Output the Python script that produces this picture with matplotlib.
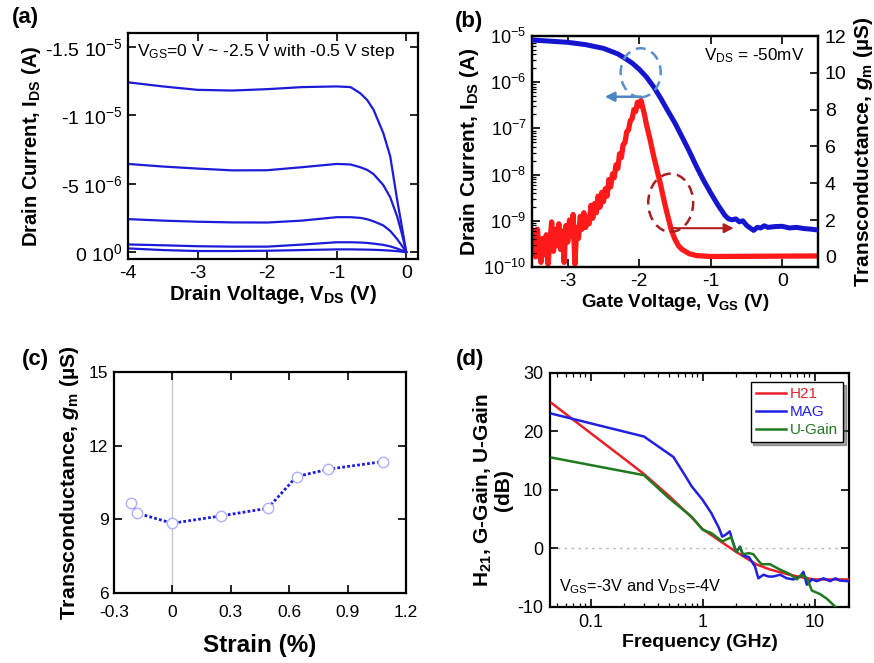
import matplotlib
matplotlib.use('Agg')
import matplotlib.pyplot as plt
from matplotlib.patches import Ellipse
from matplotlib.ticker import LogLocator, NullFormatter

plt.rcParams['font.family'] = ['Liberation Sans', 'DejaVu Sans']
plt.rcParams['mathtext.fontset'] = 'custom'
plt.rcParams['mathtext.rm'] = 'Liberation Sans'
plt.rcParams['mathtext.it'] = 'Liberation Sans:italic:bold'
plt.rcParams['mathtext.bf'] = 'Liberation Sans:bold'
plt.rcParams['axes.unicode_minus'] = False

# ---------------- data (a): output curves, I_DS in units of 1e-6 A ----------------
vds = [-4, -3.5, -3, -2.5, -2, -1.5, -1, -0.8, -0.66, -0.56, -0.47, -0.33, -0.23, -0.13, -0.06, 0]
ids_vgs_m25 = [-12.4, -12.1, -11.85, -11.8, -11.9, -12.05, -12.1, -12.05, -11.6, -11.1, -10.4,
               -8.7, -7.0, -3.8, -1.8, 0]
ids_vgs_m20 = [-6.44, -6.25, -6.1, -5.97, -5.98, -6.2, -6.44, -6.4, -6.2, -6.0, -5.7, -4.9,
               -4.0, -2.6, -1.3, 0]
ids_vgs_m15 = [-2.41, -2.30, -2.22, -2.17, -2.16, -2.3, -2.55, -2.55, -2.5, -2.4, -2.25, -1.95,
               -1.55, -0.95, -0.45, 0]
ids_vgs_m10 = [-0.56, -0.5, -0.43, -0.4, -0.4, -0.55, -0.72, -0.72, -0.7, -0.67, -0.62, -0.53,
               -0.42, -0.26, -0.12, 0]
ids_vgs_m05 = [-0.27, -0.15, -0.08, -0.08, -0.1, -0.15, -0.2, -0.2, -0.19, -0.18, -0.17, -0.14,
               -0.11, -0.07, -0.03, 0]
a_ytick_vals = [-15, -10, -5, 0]
a_ytick_labels = [r'-1.5 10$^{\mathregular{-5}}$', r'-1 10$^{\mathregular{-5}}$',
                  r'-5 10$^{\mathregular{-6}}$', r'0 10$^{\mathregular{0}}$']

# ---------------- data (b): transfer curve and transconductance ----------------
vgs_id = [-3.5, -3.0, -2.75, -2.5, -2.3, -2.2, -2.1, -2.0, -1.9, -1.8, -1.7, -1.6, -1.5,
          -1.4, -1.3, -1.2, -1.1, -1.0, -0.9, -0.8, -0.75, -0.7, -0.65, -0.6, -0.55, -0.5,
          -0.45, -0.4, -0.35, -0.3, -0.25, -0.2, -0.1, 0.0, 0.1, 0.2, 0.3, 0.4, 0.5]
id_gate = [8.2e-6, 7.3e-6, 6.5e-6, 5.4e-6, 4.1e-6, 3.3e-6, 2.6e-6, 1.9e-6, 1.3e-6, 8.0e-7,
           4.5e-7, 2.4e-7, 1.3e-7, 6.5e-8, 3.2e-8, 1.5e-8, 7.5e-9, 4.0e-9, 2.2e-9, 1.3e-9,
           1.1e-9, 1.05e-9, 1.1e-9, 0.95e-9, 1.0e-9, 0.8e-9, 0.7e-9, 0.62e-9, 0.72e-9,
           0.7e-9, 0.78e-9, 0.72e-9, 0.75e-9, 0.76e-9, 0.7e-9, 0.72e-9, 0.68e-9, 0.66e-9, 0.63e-9]
vgs_gm = [-3.5, -3.475, -3.45, -3.425, -3.4, -3.375, -3.35, -3.325, -3.3, -3.275, -3.25,
          -3.225, -3.2, -3.175, -3.15, -3.125, -3.1, -3.075, -3.05, -3.025, -3.0, -2.975,
          -2.95, -2.925, -2.9, -2.875, -2.85, -2.825, -2.8, -2.775, -2.75, -2.725, -2.7,
          -2.675, -2.65, -2.625, -2.6, -2.575, -2.55, -2.525, -2.5, -2.475, -2.45, -2.425,
          -2.4, -2.375, -2.35, -2.325, -2.3, -2.275, -2.25, -2.225, -2.2, -2.175, -2.15,
          -2.125, -2.1, -2.075, -2.05, -2.025, -2.0, -1.975, -1.95, -1.925, -1.9, -1.85,
          -1.8, -1.75, -1.7, -1.65, -1.6, -1.55, -1.5, -1.45, -1.4, -1.3, -1.2, -1.0,
          -0.5, 0.0, 0.5]
gm = [0.3, 1.4, 0.0, 1.5, 0.5, -0.3, 1.0, 0.1, 1.2, -0.4, 0.8, 1.9, 0.3, 1.5, 0.6, 1.8,
      0.4, 1.4, -0.3, 1.7, 0.8, 2.0, 1.1, 2.3, -0.4, 1.6, 1.0, 2.2, 1.5, 2.4, 1.6, 2.1,
      1.8, 2.8, 2.1, 2.9, 2.4, 3.3, 2.7, 3.5, 3.0, 3.7, 3.3, 4.2, 3.8, 4.5, 4.3, 5.0,
      4.8, 5.6, 5.4, 6.1, 6.2, 6.8, 6.9, 7.4, 7.5, 8.0, 7.9, 8.4, 8.2, 8.5, 8.1, 7.7,
      7.2, 6.4, 5.5, 4.7, 3.9, 3.0, 2.2, 1.45, 0.95, 0.6, 0.4, 0.17, 0.07, 0.02,
      0.03, 0.04, 0.05]

# ---------------- data (c): transconductance vs strain ----------------
strain = [-0.214, -0.18, 0.0, 0.25, 0.49, 0.638, 0.80, 1.08]
gm_strain = [9.68, 9.25, 8.84, 9.14, 9.45, 10.74, 11.04, 11.35]

# ---------------- data (d): RF gains ----------------
f_h21 = [0.045, 0.1, 0.2, 0.3, 0.5, 0.8, 1.0, 1.5, 2.0, 3.0, 4.0, 5.0, 6.0, 8.0, 10, 12, 15, 20]
h21 = [24.8, 19.7, 15.3, 12.7, 9.0, 5.3, 3.3, 1.0, -0.6, -2.7, -3.6, -4.1, -4.5, -5.0,
       -5.3, -5.3, -5.3, -5.3]
f_mag = [0.045, 0.3, 0.55, 0.68, 0.8, 1.0, 1.2, 1.4, 1.5, 1.6, 1.75, 1.85, 2.0, 2.16,
         2.3, 2.6, 2.94, 3.15, 3.5, 3.87, 4.29, 4.92, 5.65, 6.47, 7.43, 7.95, 8.53, 9.46,
         10.5, 12.0, 13.8, 15.3, 16.9, 20]
mag = [23.0, 19.1, 15.6, 12.8, 10.6, 8.3, 6.0, 3.5, 2.0, 2.3, 2.9, 1.3, -0.6, 0.3,
       -1.2, -1.5, -3.1, -5.1, -4.5, -4.8, -4.8, -4.5, -5.1, -5.3, -4.8, -4.0, -6.2, -5.3,
       -5.6, -5.1, -5.6, -5.1, -5.5, -5.6]
f_ug = [0.045, 0.3, 0.5, 0.8, 1.0, 1.2, 1.5, 1.8, 2.0, 2.16, 2.3, 2.6, 2.84, 3.15, 3.37,
        4.0, 4.9, 6.05, 6.95, 7.6, 8.5, 9.46, 11.2, 12.9, 14.8, 16.0]
ugain = [15.5, 12.5, 8.6, 5.4, 3.2, 2.6, 1.2, 1.9, -0.6, 0.2, -1.0, -0.8, -1.0, -2.1, -2.7,
         -2.7, -3.6, -4.4, -5.3, -4.5, -5.0, -7.2, -7.8, -8.6, -9.7, -10.2]

# ---------------- figure ----------------
fig = plt.figure(figsize=(8.74, 6.63), dpi=100)


def style(ax, size, pad=5):
    for s in ax.spines.values():
        s.set_linewidth(1.6)
    ax.tick_params(which='major', direction='in', length=6, width=1.2, labelsize=size,
                   top=True, right=True, pad=pad)
    ax.tick_params(which='minor', direction='in', length=3, width=0.9, top=True, right=True)


# (a)
axa = fig.add_axes([0.1465, 0.6094, 0.3318, 0.3408])
blue_a = '#1c1cd8'
for curve in [ids_vgs_m25, ids_vgs_m20, ids_vgs_m15, ids_vgs_m10, ids_vgs_m05]:
    axa.plot(vds, [v * 1e-6 for v in curve], color=blue_a, lw=1.6)
axa.set_xlim(-4, 0.17)
axa.set_ylim(0.5e-6, -1.6e-5)
axa.set_xticks([-4, -3, -2, -1, 0])
axa.set_xticklabels(['-4', '-3', '-2', '-1', '0'])
axa.set_yticks([v * 1e-6 for v in a_ytick_vals])
axa.set_yticklabels(a_ytick_labels)
style(axa, 14, pad=4)
axa.set_xlabel(r'Drain Voltage, V$_{\mathregular{DS}}$ (V)', fontsize=14.5, fontweight='bold', labelpad=1)
axa.set_ylabel(r'Drain Current, I$_{\mathregular{DS}}$ (A)', fontsize=14.5, fontweight='bold', labelpad=1)
axa.text(0.03, 0.92, r'V$_{\mathregular{GS}}$=0 V ~ -2.5 V with -0.5 V step',
         transform=axa.transAxes, fontsize=12.5, va='center', ha='left')
fig.text(25 / 874, 1 - 17 / 663, '(a)', fontsize=16, fontweight='bold', ha='center', va='center')

# (b)
axb = fig.add_axes([0.6087, 0.5973, 0.3272, 0.3484])
axb.semilogy(vgs_id, id_gate, color='#1515d0', lw=3.6, zorder=3)
axb.set_xlim(-3.5, 0.5)
axb.set_ylim(1e-10, 1e-5)
axb.set_xticks([-3, -2, -1, 0])
axb.set_xticklabels(['-3', '-2', '-1', '0'])
axb.yaxis.set_major_locator(LogLocator(base=10, numticks=10))
axb.yaxis.set_minor_locator(LogLocator(base=10, subs=[2, 3, 4, 5, 6, 7, 8, 9], numticks=20))
axb.yaxis.set_minor_formatter(NullFormatter())
style(axb, 14, pad=4)
axb.tick_params(axis='y', labelsize=13)
axb.tick_params(right=False, which='both')
axb.set_xlabel(r'Gate Voltage, V$_{\mathregular{GS}}$ (V)', fontsize=13.5, fontweight='bold', labelpad=2)
axb.set_ylabel(r'Drain Current, I$_{\mathregular{DS}}$ (A)', fontsize=15, fontweight='bold', labelpad=2)
axb2 = axb.twinx()
axb2.plot(vgs_gm, gm, color='#ff1a1a', lw=3.8, zorder=2)
axb2.set_ylim(-0.55, 12)
axb2.set_yticks([0, 2, 4, 6, 8, 10, 12])
axb2.set_yticklabels(['0', '2', '4', '6', '8', '10', '12'])
for s in axb2.spines.values():
    s.set_linewidth(1.6)
axb2.tick_params(direction='in', length=6, width=1.2, labelsize=14, pad=5)
axb2.set_ylabel(r'Transconductance, $g_{\mathregular{m}}$ (µS)', fontsize=15, fontweight='bold',
                labelpad=4)
axb.set_zorder(axb2.get_zorder() + 1)
axb.patch.set_visible(False)
axb.add_patch(Ellipse((0.380, 0.841), 0.140, 0.212, transform=axb.transAxes, fill=False,
                      edgecolor='#5b8fca', lw=1.8, ls=(0, (4, 2.5)), zorder=5))
axb.annotate('', xy=(0.245, 0.737), xytext=(0.392, 0.737), xycoords='axes fraction',
             arrowprops=dict(arrowstyle='-|>', color='#4a86c5', lw=1.8, mutation_scale=14))
axb.add_patch(Ellipse((0.485, 0.278), 0.157, 0.252, transform=axb.transAxes, fill=False,
                      edgecolor='#a52020', lw=1.8, ls=(0, (4, 2.5)), zorder=5))
axb.annotate('', xy=(0.715, 0.168), xytext=(0.478, 0.168), xycoords='axes fraction',
             arrowprops=dict(arrowstyle='-|>', color='#b02020', lw=1.5, mutation_scale=14))
axb.text(0.60, 0.915, r'V$_{\mathregular{DS}}$ = -50mV', transform=axb.transAxes,
         fontsize=12.3, va='center', ha='left')
fig.text(469 / 874, 1 - 22 / 663, '(b)', fontsize=16, fontweight='bold', ha='center', va='center')

# (c)
axc = fig.add_axes([0.1304, 0.1056, 0.3341, 0.3333])
axc.axvline(0, color='#c8c8c8', lw=1.0, zorder=1)
axc.plot(strain, gm_strain, color='#1a1ae0', lw=2.0, ls=(0, (1, 0.8)), zorder=2)
axc.plot(strain, gm_strain, ls='none', marker='o', ms=7.5, mfc='white', mec='#aab0ff', mew=1.0, zorder=3)
axc.set_xlim(-0.3, 1.2)
axc.set_ylim(6, 15)
axc.set_xticks([-0.3, 0, 0.3, 0.6, 0.9, 1.2])
axc.set_xticklabels(['-0.3', '0', '0.3', '0.6', '0.9', '1.2'])
axc.set_yticks([6, 9, 12, 15])
axc.set_yticklabels(['6', '9', '12', '15'])
style(axc, 12.5)
axc.tick_params(axis='x', pad=9)
axc.tick_params(axis='y', pad=4)
axc.set_xlabel('Strain (%)', fontsize=17.5, fontweight='bold', labelpad=10)
axc.set_ylabel(r'Transconductance, $g_{\mathregular{m}}$ (µS)', fontsize=15.3, fontweight='bold', labelpad=6)
fig.text(35 / 874, 1 - 359 / 663, '(c)', fontsize=16, fontweight='bold', ha='center', va='center')

# (d)
axd = fig.add_axes([0.6293, 0.0845, 0.3421, 0.3534])
axd.axhline(0, color='#bbbbbb', lw=1.0, ls=(0, (2, 3)), zorder=1)
axd.semilogx(f_h21, h21, color='#e8202a', lw=1.8, label='H21', zorder=3)
axd.semilogx(f_mag, mag, color='#2020e0', lw=1.8, label='MAG', zorder=3)
axd.semilogx(f_ug, ugain, color='#1f7a1f', lw=1.8, label='U-Gain', zorder=3)
axd.set_xlim(0.0435, 20.3)
axd.set_ylim(-10, 30)
axd.set_xticks([0.1, 1, 10])
axd.set_xticklabels(['0.1', '1', '10'])
axd.xaxis.set_minor_locator(LogLocator(base=10, subs=[2, 3, 4, 5, 6, 7, 8, 9], numticks=20))
axd.xaxis.set_minor_formatter(NullFormatter())
axd.set_yticks([-10, 0, 10, 20, 30])
axd.set_yticklabels(['-10', '0', '10', '20', '30'])
style(axd, 13)
axd.set_xlabel('Frequency (GHz)', fontsize=14, fontweight='bold', labelpad=2)
axd.set_ylabel('H$_{\\mathregular{21}}$, G-Gain, U-Gain\n(dB)', fontsize=15,
               fontweight='bold', labelpad=3, linespacing=1.0)
leg = axd.legend(loc='upper right', bbox_to_anchor=(0.98, 0.96), fontsize=11, frameon=True,
                 fancybox=False, shadow=True, handlelength=2.0, handletextpad=0.2,
                 borderpad=0.35, labelspacing=0.25, borderaxespad=0)
leg.get_frame().set_edgecolor('black')
leg.get_frame().set_linewidth(1.0)
for txt, ln in zip(leg.get_texts(), leg.get_lines()):
    txt.set_color(ln.get_color())
axd.text(0.03, 0.085, r'V$_{\mathregular{GS}}$=-3V and V$_{\mathregular{DS}}$=-4V',
         transform=axd.transAxes, fontsize=11.7, va='center', ha='left')
fig.text(470 / 874, 1 - 359 / 663, '(d)', fontsize=16, fontweight='bold', ha='center', va='center')

fig.savefig('out.png', dpi=100)
